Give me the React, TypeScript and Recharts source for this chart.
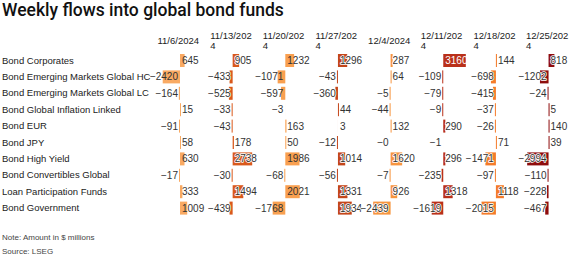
import { BarChart, Bar, XAxis, YAxis, LabelList } from "recharts";

// rows, top to bottom
const funds = [
  "Bond Corporates",
  "Bond Emerging Markets Global HC",
  "Bond Emerging Markets Global LC",
  "Bond Global Inflation Linked",
  "Bond EUR",
  "Bond JPY",
  "Bond High Yield",
  "Bond Convertibles Global",
  "Loan Participation Funds",
  "Bond Government",
];

const weeks = [
  "11/6/2024",
  "11/13/2024",
  "11/20/2024",
  "11/27/2024",
  "12/4/2024",
  "12/11/2024",
  "12/18/2024",
  "12/25/2024",
];

// weekly flows, $ millions, one array per week
const w1106 = [645, -2420, -164, 15, -91, 58, 630, -17, 333, 1009];
const w1113 = [905, -433, -525, -33, -43, 178, 2738, -30, 1494, -439];
const w1120 = [1232, -1071, -597, -3, 163, 50, 1986, -68, 2021, -1768];
const w1127 = [1296, -43, -360, 44, 3, -12, 1014, -56, 1331, 1934];
const w1204 = [287, 64, -5, -44, 132, -0, 1620, -7, 926, -2439];
const w1211 = [3160, -109, -79, -9, 290, -1, 296, -235, 1318, -1619];
const w1218 = [144, -698, -415, -37, -26, 71, -1471, -97, 1118, -2015];
const w1225 = [818, -1202, -24, 5, 140, 39, -2994, -110, -228, -467];

const series = [w1106, w1113, w1120, w1127, w1204, w1211, w1218, w1225];

const colors = ["#f9aa63", "#d9591c", "#f9a050", "#c4461a", "#f7953f", "#b9301a", "#f47b29", "#8e0c0c"];
const haloCols = [false, true, false, true, true, true, true, true];

const W = 576;
const H = 257;
const PLOT_LEFT = 1; // the y axis needs a non-zero width to draw its ticks
const FIRST_ZERO = 180;
const COL_STEP = 52.65;
const PER_PX = 140; // $m per pixel of bar
const FONT = "'Liberation Sans', Arial, sans-serif";

const rows = funds.map((fund, r) => {
  const o: Record<string, any> = { fund };
  series.forEach((s, c) => (o[`c${c}`] = s[r]));
  return o;
});

const isNeg = (v: number) => v < 0 || Object.is(v, -0);
const fmt = (v: number) => (isNeg(v) ? "\u2212" + Math.abs(v) : String(v));
const textW = (s: string) => s.length * 5.6;
const zeroAt = (c: number) => FIRST_ZERO + COL_STEP * c;

const RowTick = (p: any) => (
  <text x={2} y={p.y} dy="0.35em" fontSize={9.5} fill="#222" fontFamily={FONT}>
    {p.payload.value}
  </text>
);

const makeHeader = (label: string) => (p: any) => {
  const lines = label.length > 9 ? [label.slice(0, 9), label.slice(9)] : [label];
  const x0 = p.x - 22.5;
  const y0 = lines.length > 1 ? 36 : 41;
  return (
    <text fontSize={9.5} fill="#222" fontFamily={FONT}>
      {lines.map((l, i) => (
        <tspan key={i} x={x0} y={y0 + i * 9.5} dy="0.35em">
          {l}
        </tspan>
      ))}
    </text>
  );
};

const makeShape = (c: number) => (p: any) => {
  const v = p.payload[`c${c}`] as number;
  const neg = isNeg(v);
  const lo = Math.min(p.x, p.x + p.width);
  const hi = Math.max(p.x, p.x + p.width);
  const zero = neg ? hi : lo;
  let w = hi - lo;
  if (w < 1 && Math.abs(v) >= 5) w = 1;
  const x = neg ? zero - w : zero;
  return <rect x={x} y={p.y} width={w} height={p.height} fill={colors[c]} />;
};

const makeLabel = (c: number) => (p: any) => {
  const vb = p.viewBox || p;
  const idx = p.index;
  const v = (idx != null ? series[c][idx] : p.value) as number;
  const neg = isNeg(v);
  const lo = Math.min(vb.x, vb.x + vb.width);
  const hi = Math.max(vb.x, vb.x + vb.width);
  const zero = neg ? hi : lo;
  const s = fmt(v);
  const inside = textW(s) <= hi - lo + 2;
  const halo = haloCols[c] && Math.abs(v) >= 100 && !inside;
  return (
    <text
      x={neg ? zero - 2 : zero + 2}
      y={vb.y + vb.height / 2}
      dy="0.35em"
      textAnchor={neg ? "end" : "start"}
      fontSize={10}
      fontFamily={FONT}
      fill={inside ? "#fff" : "#333"}
      stroke={halo ? "#fff" : "none"}
      strokeWidth={halo ? 1.6 : 0}
      strokeLinejoin="round"
      paintOrder="stroke"
    >
      {s}
    </text>
  );
};

export default function App() {
  return (
    <div style={{ position: "relative", width: W, height: H, fontFamily: FONT, background: "#fff" }}>
      <style>{`body{margin:0}`}</style>
      <div
        style={{
          position: "absolute",
          left: 2,
          top: 0,
          fontFamily: "Roboto, 'Liberation Sans', Arial, sans-serif",
          fontSize: 17.5,
          lineHeight: "20px",
          fontWeight: 500,
          color: "#111",
          whiteSpace: "nowrap",
        }}
      >
        Weekly flows into global bond funds
      </div>
      <div style={{ position: "absolute", left: 0, top: 0 }}>
        <BarChart
          width={W}
          height={H}
          data={rows}
          layout="vertical"
          margin={{ top: 52 - series.length, right: 0, bottom: 41, left: 0 }}
        >
          {series.map((_, c) => (
            <XAxis
              key={`x${c}`}
              xAxisId={`c${c}`}
              type="number"
              orientation="top"
              height={1}
              domain={[(PLOT_LEFT - zeroAt(c)) * PER_PX, (W - zeroAt(c)) * PER_PX]}
              allowDataOverflow
              ticks={[0]}
              interval={0}
              axisLine={false}
              tickLine={false}
              tick={makeHeader(weeks[c])}
            />
          ))}
          {series.map((_, c) => (
            <YAxis
              key={`y${c}`}
              yAxisId={`c${c}`}
              type="category"
              dataKey="fund"
              width={PLOT_LEFT}
              hide={c !== 0}
              axisLine={false}
              tickLine={false}
              interval={0}
              tick={RowTick}
            />
          ))}
          {series.map((_, c) => (
            <Bar
              key={`b${c}`}
              dataKey={`c${c}`}
              xAxisId={`c${c}`}
              yAxisId={`c${c}`}
              fill={colors[c]}
              barSize={13}
              isAnimationActive={false}
              shape={makeShape(c)}
            >
              <LabelList dataKey={`c${c}`} content={makeLabel(c)} />
            </Bar>
          ))}
        </BarChart>
      </div>
      <div style={{ position: "absolute", left: 2, top: 234, fontSize: 8, lineHeight: "8px", color: "#444" }}>
        Note: Amount in $ millions
      </div>
      <div style={{ position: "absolute", left: 2, top: 247.5, fontSize: 8, lineHeight: "8px", color: "#444" }}>
        Source: LSEG
      </div>
    </div>
  );
}
